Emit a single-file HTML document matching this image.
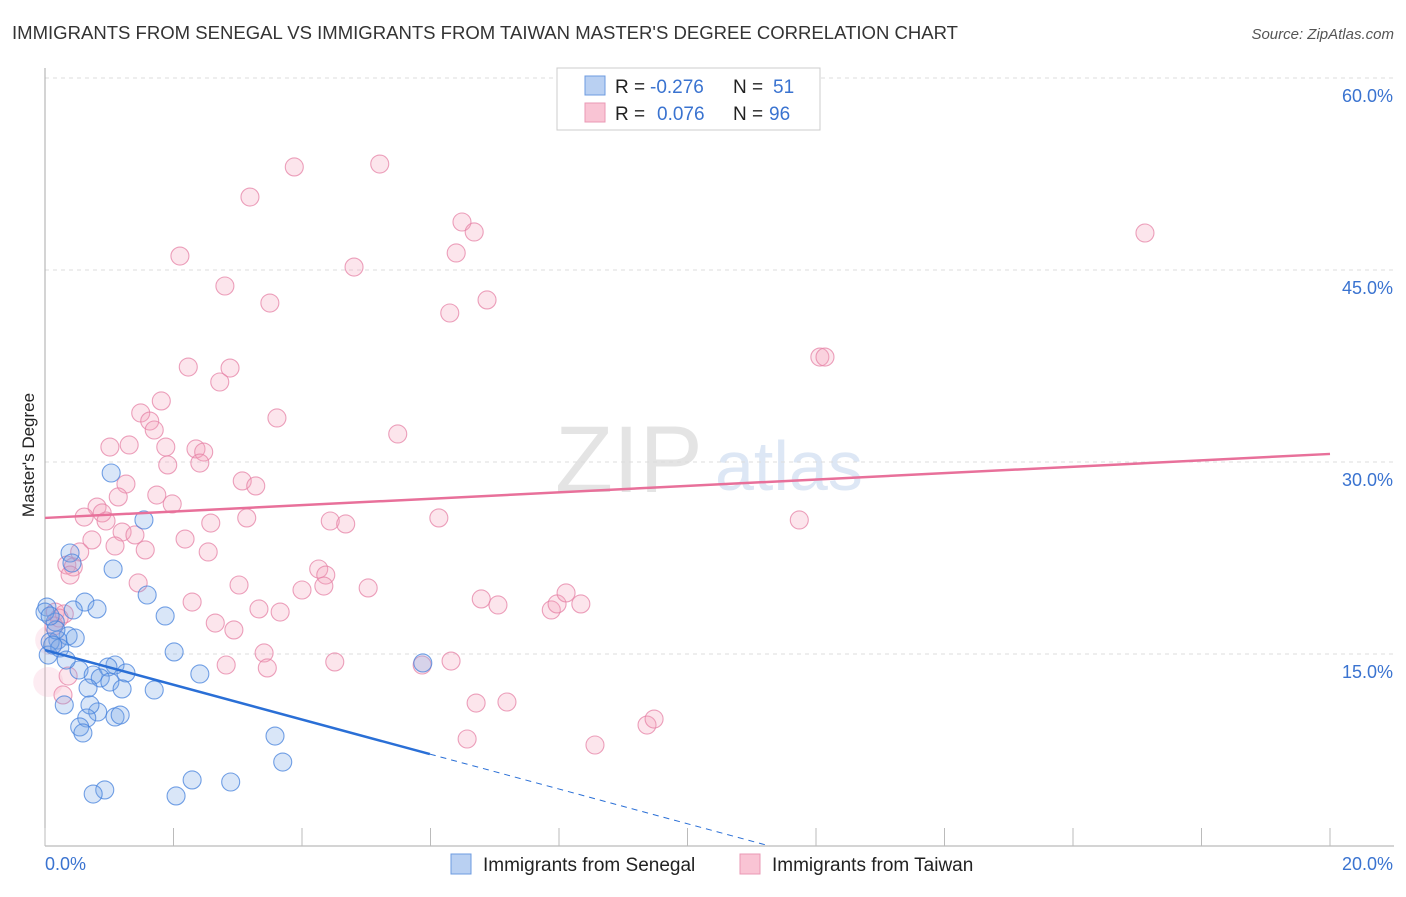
<!DOCTYPE html>
<html><head><meta charset="utf-8"><style>
body{margin:0;background:#fff;font-family:"Liberation Sans",sans-serif;}
svg text{font-family:"Liberation Sans",sans-serif;}
</style></head><body>
<svg id="chart" width="1406" height="892">
<text x="12" y="39" font-size="18" fill="#333" textLength="946" lengthAdjust="spacingAndGlyphs">IMMIGRANTS FROM SENEGAL VS IMMIGRANTS FROM TAIWAN MASTER'S DEGREE CORRELATION CHART</text>
<text x="1394" y="39" font-size="15" fill="#555" font-style="italic" text-anchor="end">Source: ZipAtlas.com</text>
<text x="34" y="455" font-size="17" fill="#222" text-anchor="middle" transform="rotate(-90 34 455)">Master's Degree</text>
<text x="555" y="492" font-size="95" fill="#e4e4e4" font-family="Liberation Serif">ZIP</text>
<text x="715" y="490" font-size="70" fill="#dde7f5">atlas</text>
<g id="grid"></g><g id="marks"></g>
<g>
<rect x="557" y="68" width="263" height="62" fill="#fff" stroke="#ccc"/>
<rect x="585" y="76" width="20" height="19" fill="#b9d0f2" stroke="#6d9be0"/>
<rect x="585" y="103" width="20" height="19" fill="#f9c4d4" stroke="#ea98b4"/>
<text x="615" y="93" font-size="19" fill="#222">R =</text>
<text x="650" y="93" font-size="19" fill="#3a73d0">-0.276</text>
<text x="733" y="93" font-size="19" fill="#222">N =</text>
<text x="773" y="93" font-size="19" fill="#3a73d0">51</text>
<text x="615" y="120" font-size="19" fill="#222">R =</text>
<text x="657" y="120" font-size="19" fill="#3a73d0">0.076</text>
<text x="733" y="120" font-size="19" fill="#222">N =</text>
<text x="769" y="120" font-size="19" fill="#3a73d0">96</text>
</g>
<g>
<rect x="451" y="854" width="20" height="20" fill="#b9d0f2" stroke="#6d9be0"/>
<text x="483" y="871" font-size="19" fill="#222">Immigrants from Senegal</text>
<rect x="740" y="854" width="20" height="20" fill="#f9c4d4" stroke="#ea98b4"/>
<text x="772" y="871" font-size="19" fill="#222">Immigrants from Taiwan</text>
</g>
</svg>
<script>
const xTickLabels=["0.0%","20.0%"];
const yTicks=[15,30,45,60];
const yTickLabels=["15.0%","30.0%","45.0%","60.0%"];
const blueX=[111,144,70,113,72,147,85,97,73,47,165,55,68,75,58,50,48,174,200,115,79,93,108,100,126,88,110,122,154,64,98,90,87,115,120,80,83,275,283,192,231,105,93,176,423,60,66,56,45,50,53].map(p=>+((p-45)/1285*20).toFixed(2));
const blueY=[473,520,553,569,563,595,602,609,610,607,616,622,636,638,640,642,655,652,674,665,670,675,667,678,673,688,682,689,690,705,712,705,718,717,715,727,733,736,762,780,782,790,794,796,663,648,660,630,612,616,645].map(p=>+((846-p)/192*15).toFixed(2));
const pinkX=[294,380,250,462,474,1145,180,354,456,225,270,487,450,820,825,188,230,220,161,141,150,154,277,398,110,129,166,196,204,168,200,242,256,126,157,118,172,97,102,84,106,92,122,135,211,247,330,346,439,799,185,115,145,208,80,67,73,70,319,326,138,239,302,324,368,192,259,280,481,498,551,557,566,581,215,234,55,64,59,54,264,226,267,335,422,451,476,507,467,595,647,654,63,68,50,48].map(p=>+((p-45)/1285*20).toFixed(2));
const pinkY=[167,164,197,222,232,233,256,267,253,286,303,300,313,357,357,367,368,382,401,413,421,430,418,434,447,445,447,449,452,465,463,481,486,484,495,497,504,507,513,517,521,540,532,535,523,518,521,524,518,520,539,546,550,552,552,565,567,575,569,575,583,585,590,586,588,602,609,612,599,605,610,604,593,604,623,630,612,614,618,626,653,665,668,662,665,661,703,702,739,745,725,719,695,676,640,682].map(p=>+((846-p)/192*15).toFixed(2));
const pinkTrend=[25.63,30.63];
const blueTrend=[15.31,0];
const blueZeroX=11.28;
const blueSolidEnd=5.99;
const X0=45,X1=1330,Y0=846,YT=68;
const sx=v=>X0+v/20*(X1-X0);
const sy=v=>Y0-v/15*192;
const NS="http://www.w3.org/2000/svg";
function mk(t,a,p){const e=document.createElementNS(NS,t);for(const k in a)e.setAttribute(k,a[k]);p.appendChild(e);return e;}
const grid=document.getElementById('grid'),marks=document.getElementById('marks');
yTicks.forEach((t,i)=>{
 const l=mk('line',{x1:X0,x2:1394,y1:sy(t),y2:sy(t),stroke:'#ddd','stroke-dasharray':'4,4'},grid);
 
 
 const tx=mk('text',{x:1393,y:sy(t)+24,'font-size':18,fill:'#3a73d0','text-anchor':'end'},grid);tx.textContent=yTickLabels[i];
 
 
});
const ax=mk('line',{x1:X0,x2:X0,y1:YT,y2:Y0,stroke:'#aaa'},grid);


const bx=mk('line',{x1:X0,x2:1394,y1:Y0,y2:Y0,stroke:'#aaa'},grid);


for(let i=0;i<=10;i++){const x=sx(i*2);const t=mk('line',{x1:x,x2:x,y1:828,y2:Y0,stroke:'#bbb'},grid);
 
 }
[[0,'start',45],[20,'end',1393]].forEach((d,i)=>{const t=mk('text',{x:d[2],y:870,'font-size':18,fill:'#3a73d0','text-anchor':d[1]},grid);t.textContent=xTickLabels[i];
 
 });
function dots(xs,ys,fill,stroke,name){xs.forEach((x,i)=>{const big=(name==='taiwan-point'&&i>=xs.length-2);const r=big?15:9;
 const c=mk('circle',{cx:sx(x),cy:sy(ys[i]),r:r,fill:big?'rgba(244,160,188,0.2)':fill,stroke:big?'none':stroke,'stroke-width':1.1},marks);
 
 });}
dots(pinkX,pinkY,'rgba(244,160,188,0.28)','rgba(230,130,165,0.75)','taiwan-point');
dots(blueX,blueY,'rgba(120,165,230,0.28)','rgba(70,130,220,0.75)','senegal-point');
const pl=mk('line',{x1:sx(0),y1:sy(pinkTrend[0]),x2:sx(20),y2:sy(pinkTrend[1]),stroke:'#e8709a','stroke-width':2.5},marks);


const slope=(blueTrend[1]-blueTrend[0])/blueZeroX;
const bl=mk('line',{x1:sx(0),y1:sy(blueTrend[0]),x2:sx(blueSolidEnd),y2:sy(blueTrend[0]+slope*blueSolidEnd),stroke:'#2a6fd6','stroke-width':2.5},marks);


const bd=mk('line',{x1:sx(blueSolidEnd),y1:sy(blueTrend[0]+slope*blueSolidEnd),x2:sx(blueZeroX),y2:sy(blueTrend[1]),stroke:'#2a6fd6','stroke-width':1,'stroke-dasharray':'6,5'},marks);


</script>
</body></html>
